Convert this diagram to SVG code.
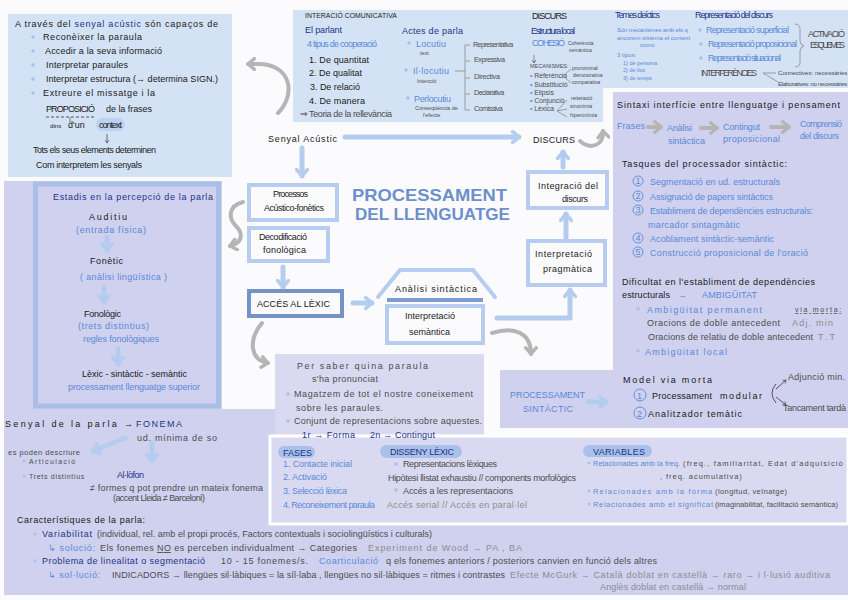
<svg xmlns="http://www.w3.org/2000/svg" width="848" height="600" viewBox="0 0 848 600">
<defs>
<style>
text{font-family:"Liberation Sans",Arial,"DejaVu Sans",sans-serif;font-size:9px;fill:#1a1a1a}
.sm{font-size:10px}
.db{fill:#1c3585}
.b{fill:#5a89d6}
.g{fill:#4d4d4d}
.lg{fill:#8c8c8c}
.pb{fill:#d4e2f5}
.pl{fill:#cfd1ef}
.pl2{fill:#d9daf1}
.box{fill:#fbfbfd;stroke:#b6cdef;stroke-width:4}
.cb{fill:none;stroke:#b4cdef;stroke-width:5;stroke-linecap:round;stroke-linejoin:round}
.cg{fill:none;stroke:#b5b5b5;stroke-width:4;stroke-linecap:round;stroke-linejoin:round}
.thin{fill:none;stroke:#8a8a8a;stroke-width:0.8}
.dot{fill:#a8c2ec}
.pill{fill:#a9c1ea}
.num{fill:none;stroke:#5a89d6;stroke-width:0.9}
.title{font-weight:bold;font-size:17px;fill:#6d8fcb}
</style>
<marker id="hb" viewBox="0 0 10 10" refX="7" refY="5" markerWidth="14" markerHeight="14" markerUnits="userSpaceOnUse" orient="auto">
<path d="M2.5,1.2 L7,5 L2.5,8.8" fill="none" stroke="#b4cdef" stroke-width="2.6" stroke-linecap="round" stroke-linejoin="round"/>
</marker>
<marker id="hg" viewBox="0 0 10 10" refX="7" refY="5" markerWidth="14" markerHeight="14" markerUnits="userSpaceOnUse" orient="auto">
<path d="M2.5,1.2 L7,5 L2.5,8.8" fill="none" stroke="#b5b5b5" stroke-width="2.4" stroke-linecap="round" stroke-linejoin="round"/>
</marker>
<marker id="ht" viewBox="0 0 10 10" refX="8" refY="5" markerWidth="5" markerHeight="5" markerUnits="userSpaceOnUse" orient="auto">
<path d="M2,1 L8,5 L2,9" fill="none" stroke="#555" stroke-width="1.5"/>
</marker>
</defs>
<rect width="848" height="600" fill="#fbfbfd"/>

<g id="panels">
<rect class="pb" x="8" y="14" width="224" height="163"/>
<path class="pb" d="M293,10 H848 V88 H603 V122 H293 Z"/>
<path class="pl" d="M613,92 H848 V428 H500 V370 H613 Z"/>
<path class="pl" d="M4,181 H222 V409 H275 V510 H4 Z"/>
<rect class="pl" x="4" y="510" width="844" height="85"/>
<rect class="pl2" x="275" y="354" width="209" height="86"/>
<rect class="pl2" x="270" y="436" width="578" height="88" stroke="#ffffff" stroke-width="3"/>
</g>

<g id="n-senyal-intro">
<text x="15" y="27" font-size="9.5" textLength="203">A través del <tspan class="db">senyal acústic</tspan> són capaços de</text>
<circle class="dot" cx="33" cy="37" r="1.8"/><circle class="dot" cx="33" cy="51" r="1.8"/><circle class="dot" cx="33" cy="65" r="1.8"/><circle class="dot" cx="33" cy="79" r="1.8"/><circle class="dot" cx="33" cy="93" r="1.8"/>
<text x="43" y="40" textLength="99">Reconèixer la paraula</text>
<text x="45" y="54" textLength="117">Accedir a la seva informació</text>
<text x="46" y="68" textLength="82">Interpretar paraules</text>
<text x="46" y="82" textLength="172">Interpretar estructura (→ determina SIGN.)</text>
<text x="43" y="96" textLength="112">Extreure el missatge i la</text>
<text x="46" y="112" font-size="8.5" textLength="49">PROPOSICIÓ</text>
<text x="106" y="112" font-size="8.5" textLength="46">de la frases</text>
<line x1="46" y1="117" x2="96" y2="117" stroke="#333" stroke-width="0.8" stroke-dasharray="3,2"/>
<line x1="70" y1="117" x2="70" y2="123" stroke="#333" stroke-width="0.6"/>
<text class="sm" transform="translate(50,128) scale(0.62)">dins</text>
<text x="68" y="128" font-size="8">d'un</text>
<rect x="96" y="118" width="29" height="13" rx="6.5" fill="#bcd2f2"/>
<text x="99" y="128" font-size="8" textLength="23">context</text>
<line x1="107" y1="134" x2="107" y2="143" stroke="#333" stroke-width="0.7" marker-end="url(#ht)"/>
<text x="33" y="153" font-size="8.5" textLength="123">Tots els seus elements determinen</text>
<text x="36" y="168" font-size="8.5" textLength="106">Com interpretem les senyals</text>
</g>

<g id="n-interaccio">
<text class="sm" transform="translate(305,18) scale(0.68)" textLength="135">INTERACIÓ COMUNICATIVA</text>
<text x="305" y="33" font-size="10" class="db" textLength="37">El parlant</text>
<text x="307" y="47" font-size="10" class="b" textLength="70">4 tipus de cooperació</text>
<text x="309" y="63" font-size="11" textLength="60">1. De quantitat</text>
<text x="309" y="76" font-size="11" textLength="53">2. De qualitat</text>
<text x="310" y="90" font-size="11" textLength="50">3. De relació</text>
<text x="309" y="104" font-size="11" textLength="56">4. De manera</text>
<text x="300" y="117" font-size="9" class="g" textLength="92">⇒ Teoria de la rellevància</text>
</g>
<g id="n-actes">
<text x="402" y="34" font-size="12" class="db" textLength="61">Actes de parla</text>
<circle class="dot" cx="409" cy="43" r="1.8"/><circle class="dot" cx="406" cy="70" r="1.8"/><circle class="dot" cx="408" cy="98" r="1.8"/>
<text x="416" y="47" font-size="11" class="b" textLength="30">Locutiu</text>
<text class="sm g" transform="translate(420,55) scale(0.55)">text</text>
<text x="413" y="74" font-size="11" class="b" textLength="36">Il·locutiu</text>
<text class="sm g" transform="translate(417,83) scale(0.55)">Intenció</text>
<text x="414" y="102" font-size="11" class="b" textLength="37">Perlocutiu</text>
<text class="sm g" transform="translate(415,110) scale(0.55)">Conseqüència de</text>
<text class="sm g" transform="translate(423,117) scale(0.55)">l'efecte</text>
<path class="thin" d="M455,71 H465 M465,45 V110 M465,45 H470 M465,61 H470 M465,78 H470 M465,94 H470 M465,110 H470"/>
<text class="sm g" transform="translate(473,47) scale(0.72)" textLength="56">Representativa</text>
<text class="sm g" transform="translate(474,62) scale(0.72)" textLength="43">Expressiva</text>
<text class="sm g" transform="translate(474,79) scale(0.72)" textLength="36">Directiva</text>
<text class="sm g" transform="translate(474,95) scale(0.72)" textLength="42">Declarativa</text>
<text class="sm g" transform="translate(474,111) scale(0.72)" textLength="40">Comissiva</text>
</g>
<g id="n-discurs-info">
<text x="532" y="19" font-size="10" textLength="35">DISCURS</text>
<text x="531" y="34" font-size="8" class="db" textLength="44">Estructura local</text>
<text x="532" y="46" font-size="9" class="b" textLength="33">COHESIÓ</text>
<text class="sm g" transform="translate(568,45) scale(0.5)">Coherència</text>
<text class="sm g" transform="translate(569,52) scale(0.5)">semàntica</text>
<line x1="534" y1="55" x2="534" y2="63" stroke="#555" stroke-width="0.6" marker-end="url(#ht)"/>
<text class="sm g" transform="translate(530,68) scale(0.55)">MECANISMES:</text>
<text class="sm g" transform="translate(530,78) scale(0.68)"><tspan class="b">•</tspan> Referència</text>
<text class="sm g" transform="translate(530,87) scale(0.68)"><tspan class="b">•</tspan> Substitució</text>
<text class="sm g" transform="translate(530,95) scale(0.68)"><tspan class="b">•</tspan> Elipsis</text>
<text class="sm g" transform="translate(530,103) scale(0.68)"><tspan class="b">•</tspan> Conjunció</text>
<text class="sm g" transform="translate(530,111) scale(0.68)"><tspan class="b">•</tspan> Lèxica</text>
<path class="thin" d="M571,69 L563,76 L571,83"/>
<text class="sm g" transform="translate(572,70) scale(0.52)">pronominal</text>
<text class="sm g" transform="translate(573,77) scale(0.52)">demostrativa</text>
<text class="sm g" transform="translate(572,84) scale(0.52)">comparativa</text>
<path class="thin" d="M567,100 L557,111 L567,109 M557,111 L567,117"/>
<text class="sm g" transform="translate(571,100) scale(0.52)">reiteració</text>
<text class="sm g" transform="translate(570,108) scale(0.52)">sinonímia</text>
<text class="sm g" transform="translate(570,117) scale(0.52)">hiperonímia</text>
</g>
<g id="n-deictics">
<text x="615" y="18" font-size="8.5" class="db" textLength="45">Temes deíctics</text>
<text class="sm b" transform="translate(617,32) scale(0.6)" textLength="118">Són mecanismes amb els q</text>
<text class="sm b" transform="translate(617,40) scale(0.6)" textLength="122">ancorem sistema el context</text>
<text class="sm b" transform="translate(640,47) scale(0.6)">comú</text>
<text class="sm b" transform="translate(617,57) scale(0.6)">3 tipus:</text>
<text class="sm b" transform="translate(623,65) scale(0.55)">1) de persona</text>
<text class="sm b" transform="translate(623,72) scale(0.55)">2) de lloc</text>
<text class="sm b" transform="translate(623,80) scale(0.55)">3) de temps</text>
</g>
<g id="n-representacio">
<text x="695" y="18" font-size="8" class="db" textLength="78">Representació del discurs</text>
<circle class="dot" cx="700" cy="30" r="1.8"/><circle class="dot" cx="701" cy="44" r="1.8"/><circle class="dot" cx="701" cy="58" r="1.8"/>
<text x="706" y="33" font-size="9" class="b" textLength="83">Representació superficial</text>
<text x="708" y="47" font-size="9" class="b" textLength="89">Representació proposicional</text>
<text x="708" y="61" font-size="9" class="b" textLength="73">Representació situacional</text>
<path class="thin" d="M795,24 Q801,24 800,32 L800,41 Q800,45 804,46 Q800,47 800,51 L800,60 Q801,67 795,67" stroke="#555"/>
<text x="808" y="37" font-size="8" class="g" textLength="37">ACTIVACIÓ</text>
<text x="810" y="48" font-size="8" class="g" textLength="35">ESQUEMES</text>
<text x="701" y="76" font-size="8" class="g" textLength="56">INTERFERÈNCIES</text>
<path class="thin" d="M776,73 H763 L778,82" stroke="#666"/>
<text class="sm g" transform="translate(778,75) scale(0.62)" textLength="112">Connectives: necessàries</text>
<text class="sm g" transform="translate(778,86) scale(0.62)" textLength="112">Elaboratives: no necessàries</text>
</g>

<g id="n-senyal-acustic"><text x="268" y="142" font-size="11" textLength="69">Senyal Acústic</text></g>
<g id="n-discurs"><text x="533" y="143" font-size="12" textLength="42">DISCURS</text></g>
<g id="n-title">
<text x="352" y="201" class="title" textLength="155" lengthAdjust="spacingAndGlyphs">PROCESSAMENT</text>
<text x="355" y="220" class="title" textLength="155" lengthAdjust="spacingAndGlyphs">DEL LLENGUATGE</text>
</g>
<g id="n-processos">
<rect class="box" x="249" y="185" width="88" height="35"/>
<text x="273" y="197" font-size="9" textLength="35">Processos</text>
<text x="264" y="211" font-size="9" textLength="60">Acústico-fonètics</text>
</g>
<g id="n-decodificacio">
<rect class="box" x="249" y="228" width="79" height="33"/>
<text x="259" y="240" font-size="9" textLength="48">Decodificació</text>
<text x="263" y="253" font-size="9" textLength="43">fonològica</text>
</g>
<g id="n-acces">
<rect class="box" x="249" y="291" width="93" height="25" style="stroke:#7592c9"/>
<text x="257" y="307" font-size="9.5" textLength="73">ACCÉS AL LÈXIC</text>
</g>
<g id="n-sintactica-semantica">
<polyline points="378,297 400,270 473,270 495,297" fill="none" stroke="#b6cdef" stroke-width="4" stroke-linecap="round"/>
<text x="395" y="292" font-size="9" textLength="82">Anàlisi sintàctica</text>
<line x1="387" y1="300" x2="483" y2="300" stroke="#7d9bd2" stroke-width="4"/>
<rect class="box" x="387" y="306" width="96" height="37"/>
<text x="405" y="319" font-size="9" textLength="50">Interpretació</text>
<text x="409" y="335" font-size="9" textLength="41">semàntica</text>
</g>
<g id="n-pragmatica">
<rect class="box" x="528" y="241" width="77" height="44"/>
<text x="535" y="257" font-size="9.5" textLength="57">Interpretació</text>
<text x="543" y="272" font-size="9.5" textLength="49">pragmàtica</text>
</g>
<g id="n-integracio">
<rect class="box" x="528" y="172" width="79" height="36"/>
<text x="538" y="189" font-size="9.5" textLength="60">Integració del</text>
<text x="562" y="202" font-size="9.5" textLength="26">discurs</text>
</g>

<g id="n-sintaxi">
<text x="617" y="108" font-size="11.5" textLength="223">Sintaxi interfície entre llenguatge i pensament</text>
<text x="617" y="129" font-size="11" class="b" textLength="28">Frases</text>
<text x="667" y="131" font-size="11" class="b" textLength="25">Anàlisi</text>
<text x="668" y="144" font-size="11" class="b" textLength="37">sintàctica</text>
<text x="723" y="130" font-size="11" class="b" textLength="37">Contingut</text>
<text x="723" y="142" font-size="11" class="b" textLength="57">proposicional</text>
<text x="800" y="127" font-size="10" class="b" textLength="42">Comprensió</text>
<text x="800" y="139" font-size="10" class="b" textLength="39">del discurs</text>
<text x="622" y="167" font-size="11" textLength="165">Tasques del processador sintàctic:</text>
<circle class="num" cx="638" cy="181" r="5"/><text x="635.5" y="184" font-size="8" class="b">1</text>
<text x="650" y="185" font-size="10.5" class="b" textLength="130">Segmentació en ud. estructurals</text>
<circle class="num" cx="638" cy="196" r="5"/><text x="635.5" y="199" font-size="8" class="b">2</text>
<text x="650" y="200" font-size="10.5" class="b" textLength="123">Assignació de papers sintàctics</text>
<circle class="num" cx="638" cy="210" r="5"/><text x="635.5" y="213" font-size="8" class="b">3</text>
<text x="650" y="214" font-size="10.5" class="b" textLength="163">Establiment de dependències estructurals:</text>
<text x="648" y="228" font-size="10.5" class="b" textLength="92">marcador sintagmàtic</text>
<circle class="num" cx="638" cy="238" r="5"/><text x="635.5" y="241" font-size="8" class="b">4</text>
<text x="650" y="242" font-size="10.5" class="b" textLength="124">Acoblament sintàctic-semàntic</text>
<circle class="num" cx="638" cy="252" r="5"/><text x="635.5" y="255" font-size="8" class="b">5</text>
<text x="650" y="256" font-size="10.5" class="b" textLength="158">Construcció proposicional de l'oració</text>
<text x="622" y="285" font-size="11" textLength="193">Dificultat en l'establiment de dependències</text>
<text x="622" y="298" font-size="11" textLength="48">estructurals</text>
<text x="678" y="298" font-size="10" class="b">→</text>
<text x="702" y="298" font-size="9.5" class="b" textLength="55">AMBIGÜITAT</text>
<circle class="dot" cx="638" cy="309" r="1.8"/>
<text x="647" y="313" font-size="12" class="b" textLength="115">Ambigüitat permanent</text>
<text class="sm g" transform="translate(795,312) scale(0.7)" text-decoration="underline" textLength="66">via morta:</text>
<text x="647" y="326" font-size="10" class="g" textLength="133">Oracions de doble antecedent</text>
<text x="792" y="326" font-size="10" class="lg" textLength="41">Adj. min</text>
<text x="648" y="340" font-size="10" class="g" textLength="165">Oracions de relatiu de doble antecedent</text>
<text x="818" y="340" font-size="10" class="lg" textLength="17">T.T</text>
<circle class="dot" cx="638" cy="351" r="1.8"/>
<text x="645" y="355" font-size="10" class="b" textLength="82">Ambigüitat local</text>
</g>
<g id="n-processament-sintactic">
<text x="510" y="398" font-size="10" class="b" textLength="75">PROCESSAMENT</text>
<text x="523" y="412" font-size="10" class="b" textLength="50">SINTÀCTIC</text>
</g>
<g id="n-model">
<text x="623" y="383" font-size="11" textLength="89">Model via morta</text>
<circle class="num" cx="640" cy="395" r="6"/><text x="637" y="398.5" font-size="8" class="b">1</text>
<text x="652" y="399" font-size="11" textLength="60">Processament</text>
<text x="720" y="399" font-size="11" textLength="42">modular</text>
<circle class="num" cx="640" cy="413" r="6"/><text x="637" y="416.5" font-size="8" class="b">2</text>
<text x="648" y="417" font-size="11" textLength="94">Analitzador temàtic</text>
<path d="M776,384 Q768,393 776,403" fill="none" stroke="#333" stroke-width="0.8"/>
<line x1="776" y1="389" x2="786" y2="380" stroke="#333" stroke-width="0.8" marker-end="url(#ht)"/>
<line x1="776" y1="397" x2="786" y2="405" stroke="#333" stroke-width="0.8" marker-end="url(#ht)"/>
<text x="788" y="380" font-size="9" class="g" textLength="57">Adjunció min.</text>
<text x="783" y="411" font-size="9" class="g" textLength="63">Tancament tardà</text>
</g>

<g id="n-estadis">
<rect x="35.5" y="184" width="183" height="222" fill="none" stroke="#a9bfe8" stroke-width="5"/>
<text x="53" y="200" font-size="10" class="db" textLength="160">Estadis en la percepció de la parla</text>
<text x="89" y="220" font-size="10" textLength="38">Auditiu</text>
<text x="76" y="233" font-size="9.5" class="b" textLength="70">(entrada física)</text>
<text x="90" y="264" font-size="10" textLength="33">Fonètic</text>
<text x="80" y="280" font-size="9.5" class="b" textLength="87">( anàlisi lingüística )</text>
<text x="84" y="317" font-size="10" textLength="37">Fonològic</text>
<text x="78" y="329" font-size="9.5" class="b" textLength="71">(trets distintius)</text>
<text x="83" y="342" font-size="9.5" class="b" textLength="76">regles fonològiques</text>
<text x="82" y="377" font-size="10" textLength="105">Lèxic - sintàctic - semàntic</text>
<text x="68" y="390" font-size="8.5" class="b" textLength="132">processament llenguatge superior</text>
</g>

<g id="n-fonema">
<text x="5" y="427" font-size="11" textLength="128">Senyal de la parla →</text>
<text x="136" y="427" font-size="10" class="db" textLength="46">FONEMA</text>
<text x="137" y="441" font-size="8" class="g" textLength="80">ud. mínima de so</text>
<text class="sm g" transform="translate(8,455) scale(0.75)" textLength="96">es poden descriure</text>
<circle class="dot" cx="24" cy="461" r="1.5"/><circle class="dot" cx="24" cy="476" r="1.5"/>
<text class="sm g" transform="translate(29,464) scale(0.7)" textLength="66">Articulació</text>
<text class="sm g" transform="translate(29,479) scale(0.7)" textLength="79">Trets distintius</text>
<text x="117" y="478" font-size="10" class="db" textLength="27">Al·lòfon</text>
<text x="90" y="491" font-size="8.5" class="g" textLength="173">≠ formes q pot prendre un mateix fonema</text>
<text x="113" y="501" font-size="8" class="g" textLength="92">(accent Lleida ≠ Barceloní)</text>
</g>

<g id="n-per-saber">
<text x="297" y="369" font-size="11" class="g" textLength="131">Per saber  quina paraula</text>
<text x="312" y="382" font-size="11" class="g" textLength="66">s'ha pronunciat</text>
<circle class="dot" cx="288" cy="394" r="1.8"/>
<text x="294" y="397" font-size="10" class="g" textLength="179">Magatzem de tot el nostre coneixement</text>
<text x="296" y="411" font-size="10" class="g" textLength="87">sobre les paraules.</text>
<circle class="dot" cx="288" cy="421" r="1.8"/>
<text x="294" y="424" font-size="10" class="g" textLength="188">Conjunt de representacions sobre aquestes.</text>
<text x="302" y="438" font-size="9.5" class="db" textLength="53">1r → Forma</text>
<text x="370" y="438" font-size="9.5" class="db" textLength="65">2n → Contingut</text>
</g>

<g id="n-fases">
<rect class="pill" x="278" y="446" width="37" height="12" rx="6"/>
<text x="283" y="455.5" font-size="8" class="db">FASES</text>
<text x="283" y="467" font-size="8" class="b" textLength="69">1. Contacte inicial</text>
<text x="283" y="480" font-size="8" class="b" textLength="44">2. Activació</text>
<text x="283" y="494" font-size="8" class="b" textLength="64">3. Selecció lèxica</text>
<text x="283" y="508" font-size="8" class="b" textLength="92">4. Reconeixement paraula</text>
</g>
<g id="n-disseny">
<rect class="pill" x="380" y="445" width="82" height="13" rx="6.5"/>
<text x="390" y="455" font-size="8" class="db" textLength="64">DISSENY LÈXIC</text>
<circle class="dot" cx="396" cy="464" r="1.8"/>
<text x="403" y="467" font-size="8.5" class="g" textLength="94">Representacions lèxiques</text>
<text x="388" y="481" font-size="8.5" class="g" textLength="188">Hipòtesi llistat exhaustiu // components morfològics</text>
<circle class="dot" cx="396" cy="490" r="1.8"/>
<text x="403" y="494" font-size="8.5" class="g" textLength="110">Accés a les representacions</text>
<text x="387" y="508" font-size="8.5" class="lg" textLength="140">Accés serial // Accés en paral·lel</text>
</g>
<g id="n-variables">
<rect class="pill" x="583" y="445" width="69" height="12" rx="6"/>
<text x="593" y="454.5" font-size="8" class="db" textLength="52">VARIABLES</text>
<circle class="dot" cx="589" cy="463" r="1.5"/>
<text class="sm b" transform="translate(593,466) scale(0.75)" textLength="116">Relacionades amb la freq.</text>
<text class="sm g" transform="translate(683,466) scale(0.75)" textLength="213">(freq., familiaritat, Edat d'adquisició</text>
<text class="sm g" transform="translate(660,479) scale(0.75)" textLength="109">, freq. acumulativa)</text>
<circle class="dot" cx="589" cy="491" r="1.5"/>
<text class="sm b" transform="translate(593,494) scale(0.75)" textLength="159">Relacionades amb la forma</text>
<text class="sm g" transform="translate(715,494) scale(0.75)" textLength="96">(longitud, veïnatge)</text>
<circle class="dot" cx="589" cy="504" r="1.5"/>
<text class="sm b" transform="translate(593,507) scale(0.75)" textLength="160">Relacionades amb el significat</text>
<text class="sm g" transform="translate(715,507) scale(0.75)" textLength="164">(imaginabilitat, facilitació semàntica)</text>
</g>

<g id="n-caracteristiques">
<text x="17" y="523" font-size="10.5" textLength="128">Característiques de la parla:</text>
<circle class="dot" cx="35" cy="534" r="1.6"/>
<text x="42" y="537" font-size="9" class="db" textLength="50">Variabilitat</text>
<text x="97" y="537" font-size="8" class="g" textLength="335">(individual, rel. amb el propi procés, Factors contextuals i sociolingüístics i culturals)</text>
<text x="48" y="551" font-size="8" class="b" textLength="47">↳ solució:</text>
<text x="100" y="551" font-size="8.5" class="g" textLength="257">Els fonemes <tspan text-decoration="underline">NO</tspan> es perceben individualment → Categories</text>
<text x="368" y="551" font-size="9.5" class="lg" textLength="154">Experiment de Wood → PA , BA</text>
<circle class="dot" cx="35" cy="561" r="1.6"/>
<text x="42" y="564" font-size="8.5" class="db" textLength="163">Problema de linealitat o segmentació</text>
<text x="221" y="564" font-size="8.5" class="g" textLength="87">10 - 15 fonemes/s.</text>
<text x="319" y="564" font-size="9.5" class="b" textLength="59">Coarticulació</text>
<text x="386" y="564" font-size="8.5" class="g" textLength="271">q els fonemes anteriors / posteriors canvien en funció dels altres</text>
<text x="48" y="578" font-size="8" class="b" textLength="52">↳ sol·lució:</text>
<text x="112" y="578" font-size="8.5" class="g" textLength="393">INDICADORS → llengües sil·làbiques = la síl·laba , llengües no sil·làbiques = ritmes i contrastes</text>
<text x="510" y="578" font-size="8.5" class="lg" textLength="320">Efecte McGurk → Català doblat en castellà → raro → i l·lusió auditiva</text>
<text x="600" y="590" font-size="8.5" class="lg" textLength="146">Anglès doblat en castellà → normal</text>
</g>

<g id="connectors">
<path class="cg" d="M278,113 C296,95 292,64 258,64 L248,64" marker-end="url(#hg)"/>
<path class="cb" d="M345,137 H519" stroke-width="6" marker-end="url(#hb)"/>
<path class="cg" d="M580,141 C590,150 604,146 603,131" marker-end="url(#hg)"/>
<path class="cb" d="M302,148 V176" marker-end="url(#hb)"/>
<path class="cg" d="M243,202 C228,206 228,218 236,226 C244,234 242,243 230,246" marker-end="url(#hg)"/>
<path class="cb" d="M283,267 V287" marker-end="url(#hb)"/>
<path class="cb" d="M353,303 H372" marker-end="url(#hb)"/>
<path class="cg" d="M262,323 C248,340 250,360 268,363" marker-end="url(#hg)"/>
<path class="cb" d="M497,318 H570 V290" marker-end="url(#hb)"/>
<path class="cg" d="M492,333 C515,326 531,333 531,354" marker-end="url(#hg)"/>
<path class="cb" d="M566,238 V214" marker-end="url(#hb)"/>
<path class="cb" d="M563,167 V152" marker-end="url(#hb)"/>
<path class="cb" d="M588,402 H606" marker-end="url(#hb)"/>
<path class="cb" d="M107,237 V250" marker-end="url(#hb)"/>
<path class="cb" d="M104,287 V302" marker-end="url(#hb)"/>
<path class="cb" d="M118,349 V364" marker-end="url(#hb)"/>
<path class="cb" d="M125,438 L93,451" stroke-width="4" stroke-dasharray="6,5" marker-end="url(#hb)"/>
<path class="cb" d="M152,443 V461" marker-end="url(#hb)"/>
<path class="cg" d="M648,127 H661" marker-end="url(#hg)"/>
<path class="cg" d="M701,128 H717" marker-end="url(#hg)"/>
<path class="cg" d="M771,127 H789" marker-end="url(#hg)"/>
</g>
</svg>
